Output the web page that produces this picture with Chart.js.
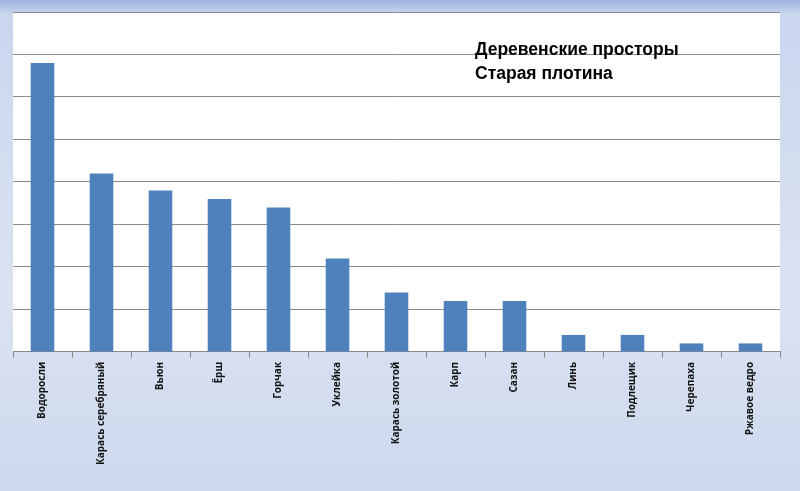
<!DOCTYPE html>
<html><head><meta charset="utf-8">
<script src="https://cdn.jsdelivr.net/npm/chart.js@4"></script>
<style>
html,body{margin:0;padding:0;}
body{width:800px;height:491px;background:linear-gradient(to bottom,#9db4e2 0px,#c9d6ee 14px,#dbe3f2 60%,#cdd8ee 100%);}
#wrap{position:absolute;left:0;top:0;width:800px;height:491px;}
</style></head><body>
<div id="wrap"><canvas id="c" width="800" height="491"></canvas></div>
<script>
const categories=["Водоросли","Карась серебряный","Вьюн","Ёрш","Горчак","Уклейка","Карась золотой","Карп","Сазан","Линь","Подлещик","Черепаха","Ржавое ведро"];
const values=[34,21,19,18,17,11,7,6,6,2,2,1,1];
const titleLines=["Деревенские просторы","Старая плотина"];
const bgPlugin={id:'bg',beforeDraw(ch){const {ctx,chartArea:a}=ch;ctx.save();ctx.fillStyle='#ffffff';ctx.fillRect(a.left,a.top,a.right-a.left,a.bottom-a.top);ctx.restore();},
afterDraw(ch){const ctx=ch.ctx;ctx.save();ctx.fillStyle='#000';ctx.font='bold 17.5px "Liberation Sans", Arial';ctx.textBaseline='alphabetic';ctx.fillText(titleLines[0],475,55);ctx.fillText(titleLines[1],475,79);ctx.restore();}};
new Chart(document.getElementById('c'),{type:'bar',
data:{labels:categories,datasets:[{data:values,backgroundColor:'#4f81bd',barPercentage:0.4,categoryPercentage:1}]},
options:{responsive:false,animation:false,devicePixelRatio:1,
layout:{padding:{left:13,right:20,top:12,bottom:22}},
plugins:{legend:{display:false},tooltip:{enabled:false}},
scales:{x:{grid:{display:true,drawOnChartArea:false,drawTicks:true,tickLength:6,color:'#888',offset:true},border:{color:'#888'},
ticks:{maxRotation:90,minRotation:90,color:'#111',font:{family:'"Open Sans", Arial',size:10,weight:'bold'},padding:4}},
y:{min:0,max:40,ticks:{stepSize:5,display:false},grid:{color:'#8c8c8c',drawTicks:false},border:{display:false}}}},
plugins:[bgPlugin]});
</script></body></html>
